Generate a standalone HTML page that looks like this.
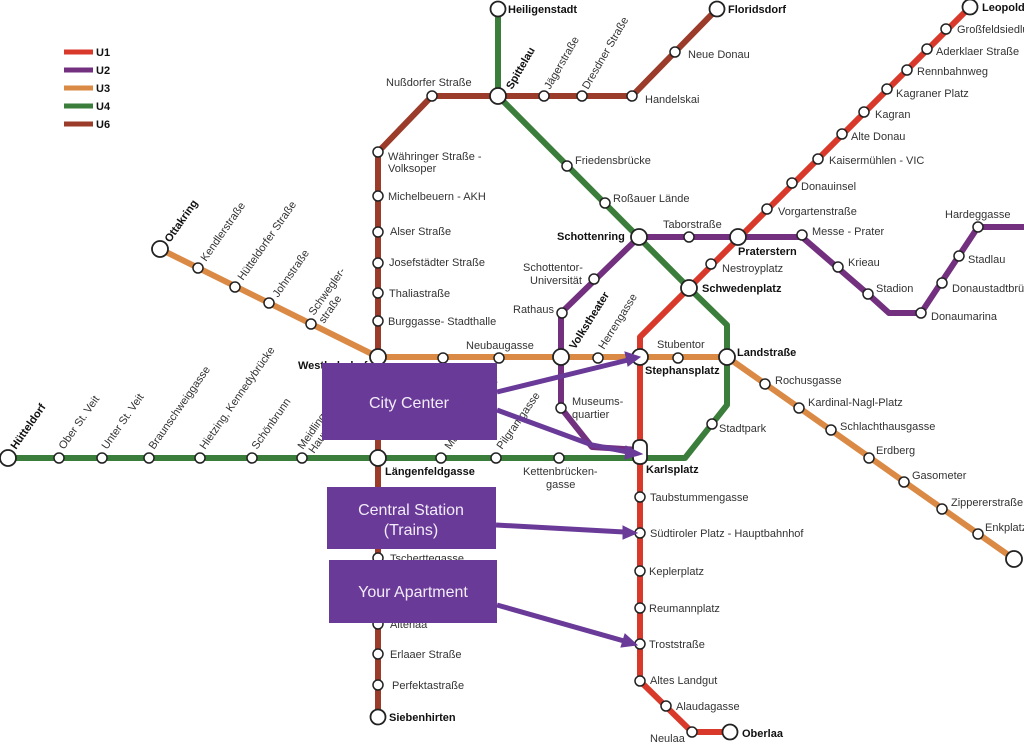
<!DOCTYPE html>
<html><head><meta charset="utf-8"><style>
html,body{margin:0;padding:0;background:#fff;width:1024px;height:745px;overflow:hidden}
svg{display:block}
text{font-family:"Liberation Sans",sans-serif;font-size:11px;fill:#333}
.b{font-weight:bold;fill:#111}
.box{font-size:16px;fill:#f2ecf8}
</style></head><body>
<svg width="1024" height="745" viewBox="0 0 1024 745" xmlns="http://www.w3.org/2000/svg">
<g fill="none" stroke-width="6" stroke-linejoin="round" stroke-linecap="round">
<!-- U6 -->
<polyline stroke="#9b3b2a" points="378,717 378,152 432,96 632,96 717,9"/>
<!-- U4 -->
<polyline stroke="#3b7d3a" points="498,9 498,96 689,288 727,325 727,405 685,458 8,458"/>
<!-- U3 -->
<polyline stroke="#db8a46" points="160,249 378,357 727,357 1014,559"/>
<!-- U1 -->
<polyline stroke="#d8392a" points="970,7 689,288 640,337 640,681 692,732 730,732"/>
<!-- U2 -->
<polyline stroke="#72307f" points="640,450 592,447 561,408 561,313 639,237 802,237 868,294 889,313 921,313 978,227 1024,227"/>
</g>
<!-- legend -->
<g stroke-width="5">
<line x1="64" y1="52" x2="93" y2="52" stroke="#d8392a"/>
<line x1="64" y1="70" x2="93" y2="70" stroke="#72307f"/>
<line x1="64" y1="88" x2="93" y2="88" stroke="#db8a46"/>
<line x1="64" y1="106" x2="93" y2="106" stroke="#3b7d3a"/>
<line x1="64" y1="124" x2="93" y2="124" stroke="#9b3b2a"/>
</g>
<g class="b"><text x="96" y="56" class="b">U1</text><text x="96" y="74" class="b">U2</text><text x="96" y="92" class="b">U3</text><text x="96" y="110" class="b">U4</text><text x="96" y="128" class="b">U6</text></g>
<!-- stations small -->
<g fill="#fff" stroke="#222" stroke-width="1.5">
<circle cx="378" cy="152" r="5"/><circle cx="378" cy="196" r="5"/><circle cx="378" cy="232" r="5"/><circle cx="378" cy="263" r="5"/><circle cx="378" cy="293" r="5"/><circle cx="378" cy="321" r="5"/><circle cx="378" cy="558" r="5"/><circle cx="378" cy="624" r="5"/><circle cx="378" cy="654" r="5"/><circle cx="378" cy="685" r="5"/>
<circle cx="432" cy="96" r="5"/><circle cx="544" cy="96" r="5"/><circle cx="582" cy="96" r="5"/><circle cx="632" cy="96" r="5"/><circle cx="675" cy="52" r="5"/>
<circle cx="567" cy="166" r="5"/><circle cx="605" cy="203" r="5"/><circle cx="712" cy="424" r="5"/>
<circle cx="59" cy="458" r="5"/><circle cx="102" cy="458" r="5"/><circle cx="149" cy="458" r="5"/><circle cx="200" cy="458" r="5"/><circle cx="252" cy="458" r="5"/><circle cx="302" cy="458" r="5"/><circle cx="441" cy="458" r="5"/><circle cx="496" cy="458" r="5"/><circle cx="559" cy="458" r="5"/>
<circle cx="198" cy="268" r="5"/><circle cx="235" cy="287" r="5"/><circle cx="269" cy="303" r="5"/><circle cx="311" cy="324" r="5"/>
<circle cx="443" cy="358" r="5"/><circle cx="499" cy="358" r="5"/><circle cx="598" cy="358" r="5"/><circle cx="678" cy="358" r="5"/>
<circle cx="765" cy="384" r="5"/><circle cx="799" cy="408" r="5"/><circle cx="831" cy="430" r="5"/><circle cx="869" cy="458" r="5"/><circle cx="904" cy="482" r="5"/><circle cx="942" cy="509" r="5"/><circle cx="978" cy="534" r="5"/>
<circle cx="946" cy="29" r="5"/><circle cx="927" cy="49" r="5"/><circle cx="907" cy="70" r="5"/><circle cx="887" cy="89" r="5"/><circle cx="864" cy="112" r="5"/><circle cx="842" cy="134" r="5"/><circle cx="818" cy="159" r="5"/><circle cx="792" cy="183" r="5"/><circle cx="767" cy="209" r="5"/><circle cx="711" cy="264" r="5"/>
<circle cx="640" cy="497" r="5"/><circle cx="640" cy="533" r="5"/><circle cx="640" cy="571" r="5"/><circle cx="640" cy="608" r="5"/><circle cx="640" cy="644" r="5"/><circle cx="640" cy="681" r="5"/><circle cx="666" cy="706" r="5"/><circle cx="692" cy="732" r="5"/>
<circle cx="594" cy="279" r="5"/><circle cx="562" cy="313" r="5"/><circle cx="561" cy="408" r="5"/><circle cx="689" cy="237" r="5"/><circle cx="802" cy="235" r="5"/><circle cx="838" cy="267" r="5"/><circle cx="868" cy="294" r="5"/><circle cx="921" cy="313" r="5"/><circle cx="942" cy="283" r="5"/><circle cx="959" cy="256" r="5"/><circle cx="978" cy="227" r="5"/>
</g>
<g fill="#fff" stroke="#222" stroke-width="1.8">
<circle cx="498" cy="9" r="7.5"/><circle cx="717" cy="9" r="7.5"/><circle cx="970" cy="7" r="7.5"/><circle cx="498" cy="96" r="8"/>
<circle cx="160" cy="249" r="8"/><circle cx="8" cy="458" r="8"/><circle cx="378" cy="357" r="8"/><circle cx="378" cy="458" r="8"/><circle cx="378" cy="717" r="7.5"/>
<circle cx="639" cy="237" r="8"/><circle cx="738" cy="237" r="8"/><circle cx="689" cy="288" r="8"/><circle cx="561" cy="357" r="8"/><circle cx="640" cy="357" r="8"/><circle cx="727" cy="357" r="8"/><circle cx="1014" cy="559" r="8"/><circle cx="730" cy="732" r="7.5"/>
<rect x="633" y="440" width="14" height="24" rx="6"/>
</g>
<!-- labels -->
<text x="508" y="13" class="b">Heiligenstadt</text>
<text x="728" y="13" class="b">Floridsdorf</text>
<text x="982" y="11" class="b">Leopoldau</text>
<text x="386" y="86">Nußdorfer Straße</text>
<text transform="translate(512,90) rotate(-60)" class="b">Spittelau</text>
<text transform="translate(550,90) rotate(-60)">Jägerstraße</text>
<text transform="translate(588,90) rotate(-60)">Dresdner Straße</text>
<text x="645" y="103">Handelskai</text>
<text x="688" y="58">Neue Donau</text>
<text x="388" y="160">Währinger Straße -</text><text x="388" y="172">Volksoper</text>
<text x="388" y="200">Michelbeuern - AKH</text>
<text x="390" y="235">Alser Straße</text>
<text x="389" y="266">Josefstädter Straße</text>
<text x="389" y="297">Thaliastraße</text>
<text x="388" y="325">Burggasse- Stadthalle</text>
<text x="298" y="369" class="b">Westbahnhof</text>
<text x="385" y="475" class="b">Längenfeldgasse</text>
<text x="390" y="562">Tscherttegasse</text>
<text x="390" y="628">Alterlaa</text>
<text x="390" y="658">Erlaaer Straße</text>
<text x="392" y="689">Perfektastraße</text>
<text x="389" y="721" class="b">Siebenhirten</text>
<text x="575" y="164">Friedensbrücke</text>
<text x="613" y="202">Roßauer Lände</text>
<text x="557" y="240" class="b">Schottenring</text>
<text x="702" y="292" class="b">Schwedenplatz</text>
<text x="737" y="356" class="b">Landstraße</text>
<text x="719" y="432">Stadtpark</text>
<text x="646" y="473" class="b">Karlsplatz</text>
<text x="957" y="33">Großfeldsiedlung</text>
<text x="936" y="55">Aderklaer Straße</text>
<text x="917" y="75">Rennbahnweg</text>
<text x="896" y="97">Kagraner Platz</text>
<text x="875" y="118">Kagran</text>
<text x="851" y="140">Alte Donau</text>
<text x="829" y="164">Kaisermühlen - VIC</text>
<text x="801" y="190">Donauinsel</text>
<text x="778" y="215">Vorgartenstraße</text>
<text x="738" y="255" class="b">Praterstern</text>
<text x="722" y="272">Nestroyplatz</text>
<text x="645" y="374" class="b">Stephansplatz</text>
<text x="650" y="501">Taubstummengasse</text>
<text x="650" y="537">Südtiroler Platz - Hauptbahnhof</text>
<text x="649" y="575">Keplerplatz</text>
<text x="649" y="612">Reumannplatz</text>
<text x="649" y="648">Troststraße</text>
<text x="650" y="684">Altes Landgut</text>
<text x="676" y="710">Alaudagasse</text>
<text x="650" y="742">Neulaa</text>
<text x="742" y="737" class="b">Oberlaa</text>
<text x="663" y="228">Taborstraße</text>
<text x="812" y="235">Messe - Prater</text>
<text x="848" y="266">Krieau</text>
<text x="876" y="292">Stadion</text>
<text x="931" y="320">Donaumarina</text>
<text x="952" y="292">Donaustadtbrücke</text>
<text x="968" y="263">Stadlau</text>
<text x="945" y="218">Hardeggasse</text>
<text x="523" y="271">Schottentor-</text><text x="530" y="284">Universität</text>
<text x="513" y="313">Rathaus</text>
<text transform="translate(575,350) rotate(-58)" class="b">Volkstheater</text>
<text transform="translate(604,350) rotate(-58)">Herrengasse</text>
<text x="572" y="405">Museums-</text><text x="572" y="418">quartier</text>
<text x="466" y="349">Neubaugasse</text>
<text x="657" y="348">Stubentor</text>
<text x="775" y="384">Rochusgasse</text>
<text x="808" y="406">Kardinal-Nagl-Platz</text>
<text x="840" y="430">Schlachthausgasse</text>
<text x="876" y="454">Erdberg</text>
<text x="912" y="479">Gasometer</text>
<text x="951" y="506">Zippererstraße</text>
<text x="985" y="531">Enkplatz</text>
<text transform="translate(170,243) rotate(-55)" class="b">Ottakring</text>
<text transform="translate(206,262) rotate(-55)">Kendlerstraße</text>
<text transform="translate(243,281) rotate(-55)">Hütteldorfer Straße</text>
<text transform="translate(278,298) rotate(-55)">Johnstraße</text>
<text transform="translate(314,316) rotate(-55)">Schwegler-</text>
<text transform="translate(324,324) rotate(-55)">straße</text>
<text transform="translate(16,450) rotate(-55)" class="b">Hütteldorf</text>
<text transform="translate(64,450) rotate(-55)">Ober St. Veit</text>
<text transform="translate(107,450) rotate(-55)">Unter St. Veit</text>
<text transform="translate(154,450) rotate(-55)">Braunschweiggasse</text>
<text transform="translate(205,450) rotate(-55)">Hietzing, Kennedybrücke</text>
<text transform="translate(257,450) rotate(-55)">Schönbrunn</text>
<text transform="translate(303,450) rotate(-55)">Meidling</text>
<text transform="translate(314,454) rotate(-55)">Hauptstraße</text>
<text transform="translate(450,450) rotate(-55)">Margaretengürtel</text>
<text transform="translate(502,450) rotate(-55)">Pilgramgasse</text>
<text x="523" y="475">Kettenbrücken-</text><text x="546" y="488">gasse</text>
<!-- callout boxes -->
<g fill="#6a3a98">
<rect x="322" y="363" width="175" height="77"/>
<rect x="327" y="487" width="169" height="62"/>
<rect x="329" y="560" width="168" height="63"/>
</g>
<text x="409" y="408" text-anchor="middle" class="box">City Center</text>
<text x="411" y="515" text-anchor="middle" class="box">Central Station</text>
<text x="411" y="535" text-anchor="middle" class="box">(Trains)</text>
<text x="413" y="597" text-anchor="middle" class="box">Your Apartment</text>
<g stroke="#6a3a98" stroke-width="5" fill="#6a3a98">
<line x1="497" y1="392" x2="628" y2="360"/><polygon points="640,357 625,352 628,366" stroke-width="1"/>
<polyline fill="none" points="497,410 592,445 628,452"/><polygon points="642,454 626,446 625,459" stroke-width="1"/>
<line x1="496" y1="525" x2="624" y2="532"/><polygon points="637,533 623,526 623,539" stroke-width="1"/>
<line x1="497" y1="605" x2="624" y2="641"/><polygon points="637,645 625,634 621,647" stroke-width="1"/>
</g>
</svg>
</body></html>
